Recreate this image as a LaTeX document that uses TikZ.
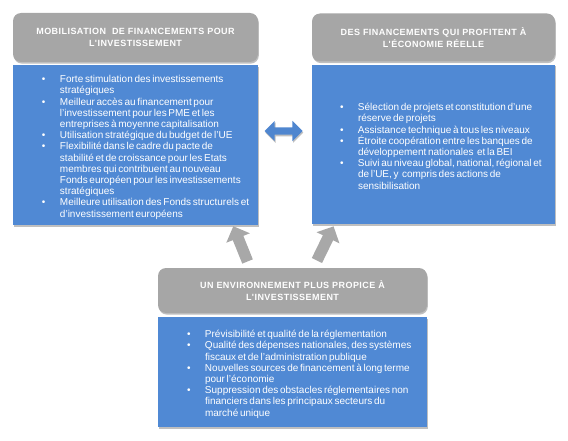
\documentclass[tikz,border=0pt]{standalone}
\usepackage{fontspec}
\setmainfont{Liberation Sans}
\newfontfamily\titrefont[LetterSpace=5]{Liberation Sans}
\usetikzlibrary{positioning, shapes.arrows, shadows}
\definecolor{blocBleu}{HTML}{5089D4}
\definecolor{titreGris}{HTML}{A6A6A6}
\definecolor{flecheGris}{HTML}{A8A8A8}
\definecolor{flecheBleu}{HTML}{4F86CF}
\newlength\pucemarge
\newcommand{\puce}[1]{\par\leftskip=\pucemarge\hangindent=18pt\hangafter=1\noindent
  \spaceskip=.17em plus .1em minus .05em\makebox[18pt][l]{\textbullet}#1}
\tikzset{
  ombre/.style  = {drop shadow={shadow xshift=.8pt, shadow yshift=-1.6pt, opacity=.25, fill=black}},
  titre/.style  = {fill=titreGris, rounded corners=8pt, text=white, align=center, ombre,
                   font=\titrefont\bfseries\fontsize{9}{12.3}\selectfont, inner sep=0pt},
  bloc/.style   = {fill=blocBleu, text=white, align=left, ombre, inner xsep=5pt, inner ysep=0pt,
                   font=\fontsize{10}{11.2}\selectfont},
  fleche/.style = {single arrow, fill=flecheGris, inner xsep=0pt, inner ysep=5.5pt,
                   minimum height=38pt, single arrow head extend=7pt},
  lien/.style   = {double arrow, fill=flecheBleu, inner xsep=0pt, inner ysep=3.5pt,
                   minimum height=38pt, double arrow head extend=6.5pt, ombre}
}
\begin{document}
\begin{tikzpicture}[x=1pt, y=-1pt]
  \useasboundingbox (0,0) rectangle (568,441);
  % financements pour l'investissement
  \node[titre, minimum width=245pt, minimum height=49pt] (mobTitre) at (135.5,37.5)
    {MOBILISATION\ \ DE FINANCEMENTS POUR\\L'INVESTISSEMENT};
  \node[bloc, below=3pt of mobTitre, text width=235pt, minimum height=160pt] (mobBloc) {%
    \setlength\pucemarge{24pt}%
    \puce{Forte stimulation des investissements\newline stratégiques}
    \puce{Meilleur accès au financement pour\newline l'investissement pour les PME et les\newline entreprises à moyenne capitalisation}
    \puce{Utilisation stratégique du budget de l'UE}
    \puce{Flexibilité dans le cadre du pacte de\newline stabilité et de croissance pour les Etats\newline membres qui contribuent au nouveau\newline Fonds européen pour les investissements\newline stratégiques}
    \puce{Meilleure utilisation des Fonds structurels et\newline d'investissement européens}\par};
  % economie reelle
  \node[titre, minimum width=243pt, minimum height=48pt] (ecoTitre) at (433.5,37.5)
    {DES FINANCEMENTS QUI PROFITENT À\\L'ÉCONOMIE RÉELLE};
  \node[bloc, below=3pt of ecoTitre, text width=227pt, inner xsep=8pt, minimum height=159pt] (ecoBloc) {%
    \setlength\pucemarge{20pt}%
    \puce{Sélection de projets et constitution d'une\newline réserve de projets}
    \puce{Assistance technique à tous les niveaux}
    \puce{Étroite coopération entre les banques de\newline développement nationales\ \ et la BEI}
    \puce{Suivi au niveau global, national, régional et\newline de l'UE, y\ \ compris des actions de\newline sensibilisation}\par};
  % environnement propice
  \node[titre, minimum width=269pt, minimum height=45pt] (envTitre) at (292.5,290.5)
    {UN ENVIRONNEMENT PLUS PROPICE À\\L'INVESTISSEMENT};
  \node[bloc, below=4pt of envTitre, text width=245pt, inner xsep=12pt, minimum height=110pt] (envBloc) {%
    \setlength\pucemarge{17pt}%
    \puce{Prévisibilité et qualité de la réglementation}
    \puce{Qualité des dépenses nationales, des systèmes\newline fiscaux et de l'administration publique}
    \puce{Nouvelles sources de financement à long terme\newline pour l'économie}
    \puce{Suppression des obstacles réglementaires non\newline financiers dans les principaux secteurs du\newline marché unique}\par};
  % fleches
  \node[lien] (mobEco) at (283.5,131) {};
  \node[fleche, rotate=112] (envMob) at (241.5,246.5) {};
  \node[fleche, rotate=64] (envEco) at (324,246) {};
\end{tikzpicture}
\end{document}
